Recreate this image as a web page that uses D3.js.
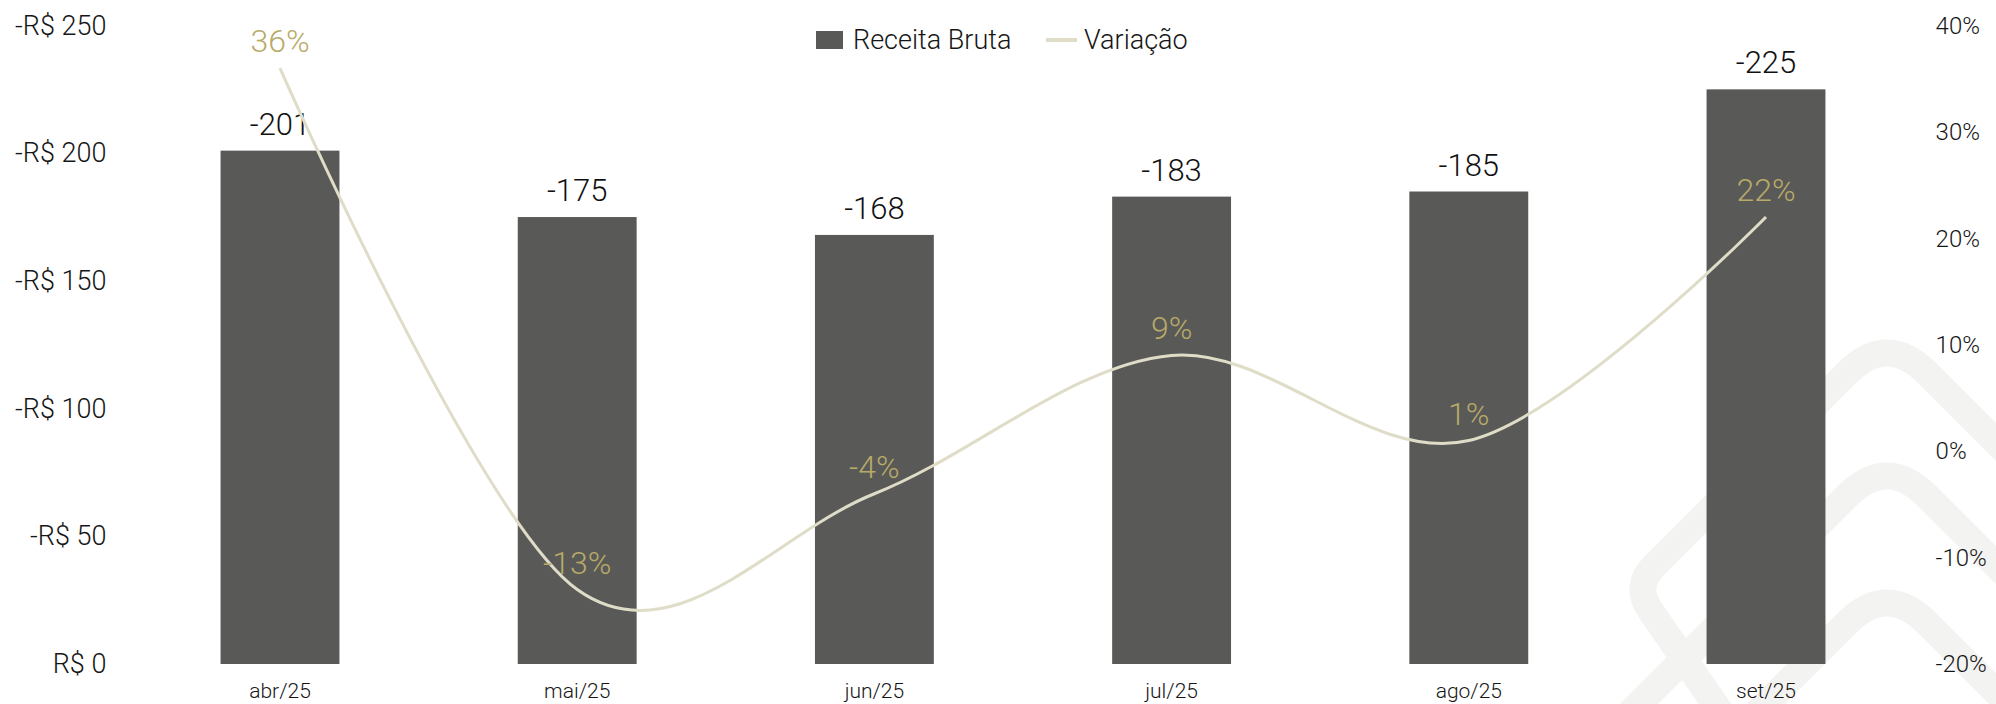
<!DOCTYPE html>
<html>
<head>
<meta charset="utf-8">
<script src="https://cdn.jsdelivr.net/npm/d3@7"></script>
<style>
  body { margin: 0; background: #fff; }
  text { font-family: Roboto, "Noto Sans", sans-serif; font-weight: 300; }
</style>
</head>
<body>
<div id="chart"></div>
<script>
// chart data
var months = ["abr/25", "mai/25", "jun/25", "jul/25", "ago/25", "set/25"];
var receita = [-201, -175, -168, -183, -185, -225];
var variacao = [0.36, -0.13, -0.04, 0.09, 0.01, 0.22];
var leftTicks = [0, -50, -100, -150, -200, -250];
var rightTicks = [-0.2, -0.1, 0, 0.1, 0.2, 0.3, 0.4];

var width = 1996,
    height = 704;

var barColor = "#595958",
    lineColor = "#dfdcc7",
    pctColor = "#b8aa68",
    textColor = "#161616";

// plain hyphen for negatives, like the original
var pct = d3.formatLocale({
  decimal: ",", thousands: ".", grouping: [3], currency: ["R$ ", ""], minus: "-"
}).format(".0%");

var svg = d3.select("#chart").append("svg")
    .attr("width", width)
    .attr("height", height);

// faint logo in the background (bottom right)
var wm = svg.append("g")
    .attr("fill", "none")
    .attr("stroke", "#f3f3f1")
    .attr("stroke-width", 27)
    .attr("stroke-linecap", "round");

function chevron(py, r) {
  var px = 1887;
  return "M" + (px + 140) + "," + (py + 140) +
    "L" + (px + r) + "," + (py + r) +
    "Q" + px + "," + py + " " + (px - r) + "," + (py + r);
}
// outer band, rounded corner on the left then down to the bottom
wm.append("path")
    .attr("d", chevron(333, 40) + "L1654,566Q1634,586 1650,610L1740,740");
wm.append("path").attr("d", chevron(456, 40) + "L1600,743");
wm.append("path").attr("d", chevron(583, 40) + "L1740,730");

var x = d3.scaleBand()
    .domain(months)
    .range([131.4, 1914.6])
    .paddingInner(0.6)
    .paddingOuter(0.3);

var yL = d3.scaleLinear().domain([0, -250]).range([664, 25.5]);
var yR = d3.scaleLinear().domain([-0.2, 0.4]).range([664, 25.5]);

// axes
var axL = svg.append("g")
    .attr("transform", "translate(131.4,0)")
    .call(d3.axisLeft(yL).tickValues(leftTicks).tickSize(0).tickPadding(25)
      .tickFormat(function(d) { return d === 0 ? "R$ 0" : "-R$ " + Math.abs(d); }));
axL.select(".domain").remove();
axL.selectAll("text").style("font-size", "27px").attr("fill", textColor)
    .style("font-family", "Roboto, sans-serif").style("font-weight", 300);

var axR = svg.append("g")
    .attr("transform", "translate(1914.6,0)")
    .call(d3.axisRight(yR).tickValues(rightTicks).tickSize(0).tickPadding(21)
      .tickFormat(pct));
axR.select(".domain").remove();
axR.selectAll("text").style("font-size", "24px").attr("fill", textColor)
    .style("font-family", "Roboto, sans-serif").style("font-weight", 300);

var axX = svg.append("g")
    .attr("transform", "translate(0,664)")
    .call(d3.axisBottom(x).tickSize(0).tickPadding(19));
axX.select(".domain").remove();
axX.selectAll("text").style("font-size", "21px").attr("fill", textColor)
    .style("font-family", "Roboto, sans-serif").style("font-weight", 300);

// bars
svg.selectAll(".bar")
    .data(receita)
  .enter().append("rect")
    .attr("class", "bar")
    .attr("x", function(d, i) { return x(months[i]); })
    .attr("width", x.bandwidth())
    .attr("y", function(d) { return yL(d); })
    .attr("height", function(d) { return yL(0) - yL(d); })
    .attr("fill", barColor);

svg.selectAll(".barlabel")
    .data(receita)
  .enter().append("text")
    .attr("class", "barlabel")
    .attr("x", function(d, i) { return x(months[i]) + x.bandwidth() / 2; })
    .attr("y", function(d) { return yL(d) - 16; })
    .attr("text-anchor", "middle")
    .attr("font-size", "31px")
    .attr("fill", "#111")
    .text(function(d) { return d; });

// smoothed line (Excel style)
var line = d3.line()
    .x(function(d, i) { return x(months[i]) + x.bandwidth() / 2; })
    .y(function(d) { return yR(d); })
    .curve(d3.curveCardinal.tension(0));

svg.append("path")
    .datum(variacao)
    .attr("d", line)
    .attr("fill", "none")
    .attr("stroke", lineColor)
    .attr("stroke-width", 3);

svg.selectAll(".pct")
    .data(variacao)
  .enter().append("text")
    .attr("class", "pct")
    .attr("x", function(d, i) { return x(months[i]) + x.bandwidth() / 2; })
    .attr("y", function(d) { return yR(d) - 16; })
    .attr("text-anchor", "middle")
    .attr("font-size", "32px")
    .attr("fill", pctColor)
    .text(function(d) { return pct(d); });

// legend
var lg = svg.append("g");
lg.append("rect")
    .attr("x", 816).attr("y", 31)
    .attr("width", 27).attr("height", 18)
    .attr("fill", barColor);
lg.append("text")
    .attr("x", 853).attr("y", 49)
    .attr("font-size", "27px")
    .attr("fill", textColor)
    .text("Receita Bruta");
lg.append("line")
    .attr("x1", 1046).attr("x2", 1077)
    .attr("y1", 40).attr("y2", 40)
    .attr("stroke", lineColor)
    .attr("stroke-width", 4);
lg.append("text")
    .attr("x", 1084).attr("y", 49)
    .attr("font-size", "27px")
    .attr("fill", textColor)
    .text("Variação");
</script>
</body>
</html>
